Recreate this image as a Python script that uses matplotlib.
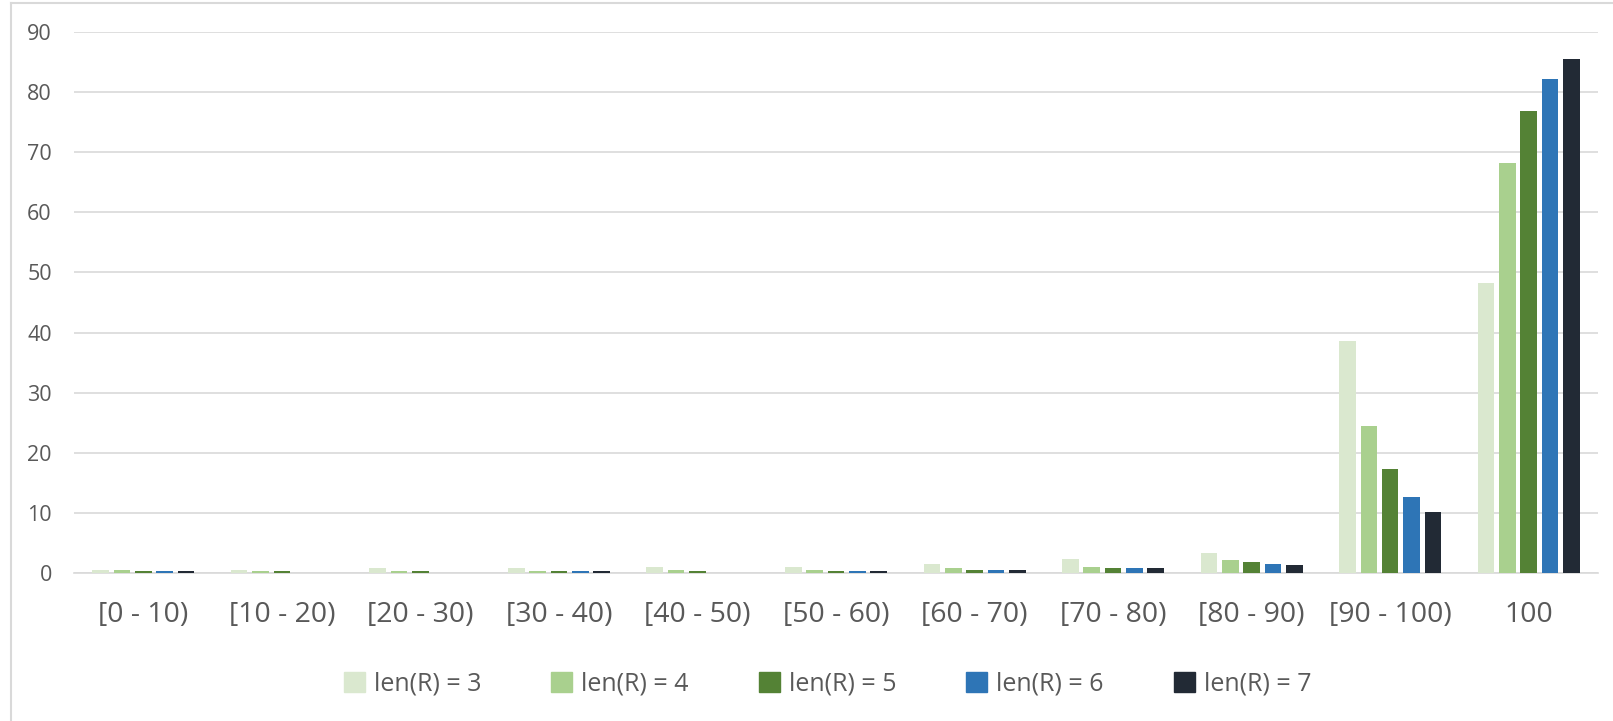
import matplotlib
matplotlib.use("Agg")
import matplotlib.pyplot as plt
import numpy as np
from matplotlib.lines import Line2D

categories = ["[0 - 10)", "[10 - 20)", "[20 - 30)", "[30 - 40)", "[40 - 50)",
              "[50 - 60)", "[60 - 70)", "[70 - 80)", "[80 - 90)", "[90 - 100)", "100"]
series_names = ["len(R) = 3", "len(R) = 4", "len(R) = 5", "len(R) = 6", "len(R) = 7"]
len3 = [0.5, 0.6, 0.8, 0.8, 1.1, 1.1, 1.55, 2.45, 3.45, 38.6, 48.2]
len4 = [0.55, 0.3, 0.3, 0.3, 0.55, 0.55, 0.83, 1.05, 2.2, 24.4, 68.1]
len5 = [0.3, 0.4, 0.4, 0.4, 0.33, 0.35, 0.6, 0.83, 1.8, 17.3, 76.8]
len6 = [0.3, 0.0, 0.0, 0.4, 0.0, 0.35, 0.6, 0.83, 1.55, 12.7, 82.1]
len7 = [0.4, 0.0, 0.0, 0.4, 0.0, 0.4, 0.6, 0.83, 1.3, 10.2, 85.4]
colors = ["#dae8cf", "#a9d08e", "#548235", "#2e75b6", "#222a35"]

plt.rcParams['font.family'] = ['Open Sans', 'DejaVu Sans']

fig = plt.figure(figsize=(16.13, 7.21), dpi=100)
ax = fig.add_axes([74/1613, 1-573.3/721, (1598-74)/1613, (573.3-31.7)/721])

x = np.arange(len(categories))
step = 0.154
width = 0.12
all_series = [len3, len4, len5, len6, len7]
for i, (vals, name, c) in enumerate(zip(all_series, series_names, colors)):
    ax.bar(x + (i - 2) * step, vals, width=width, color=c, label=name, zorder=3)

ax.set_xlim(-0.5, len(categories) - 0.5)
ax.set_ylim(0, 90)
ax.set_yticks(np.arange(0, 91, 10))
ax.set_xticks(x)
ax.set_xticklabels(categories)
ax.grid(axis='y', color='#d9d9d9', linewidth=1.2, zorder=0)
for s in ['top', 'right', 'left']:
    ax.spines[s].set_visible(False)
ax.spines['bottom'].set_color('#d9d9d9')
ax.spines['bottom'].set_linewidth(1.2)
ax.tick_params(axis='y', length=0, pad=16, labelsize=15.5, labelcolor='#595959')
ax.tick_params(axis='x', length=0, pad=20, labelsize=20.5, labelcolor='#595959')

handles = [plt.Rectangle((0, 0), 1, 1, color=c) for c in colors]
leg = fig.legend(handles, series_names, loc='center', bbox_to_anchor=(0.513, 1-684/721),
                 ncol=5, frameon=False, fontsize=18, handlelength=0.85, handleheight=0.85,
                 handletextpad=0.35, columnspacing=2.8, labelcolor='#595959')

# outer border (top and left visible)
fig.add_artist(Line2D([11/1613, 11/1613], [0, 1-3/721], transform=fig.transFigure, color='#d9d9d9', lw=1.5))
fig.add_artist(Line2D([11/1613, 1], [1-3/721, 1-3/721], transform=fig.transFigure, color='#d9d9d9', lw=1.5))

fig.savefig("out.png", dpi=100, facecolor='white')
